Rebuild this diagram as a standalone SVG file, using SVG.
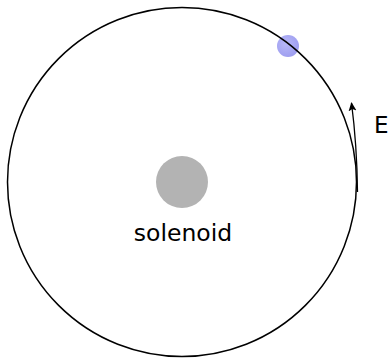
<svg xmlns="http://www.w3.org/2000/svg" width="392" height="358" viewBox="0 0 392 358">
<style>
.lbl{font-family:"DejaVu Sans",sans-serif;fill:#000}
</style>
<defs>
<marker id="ah" markerWidth="10" markerHeight="10" refX="8" refY="4" orient="auto" markerUnits="userSpaceOnUse">
<path d="M0,0 L9,4 L0,8 L2,4 Z" fill="#000"/>
</marker>
<radialGradient id="bg" cx="0.4" cy="0.4" r="0.6">
<stop offset="0" stop-color="#b8b8f8"/>
<stop offset="1" stop-color="#9f9ff0"/>
</radialGradient>
</defs>
<rect width="392" height="358" fill="#fff"/>
<g id="charge"><circle cx="288" cy="46" r="11" fill="url(#bg)"/></g>
<g id="orbit"><circle cx="182" cy="182" r="174.5" fill="none" stroke="#000" stroke-width="1.5"/></g>
<g id="solenoid"><circle cx="182" cy="182" r="26" fill="#b3b3b3"/><text class="lbl" x="183" y="241" font-size="23.5" text-anchor="middle">solenoid</text></g>
<g id="connectors"><path d="M357.5,192 Q357,145 351.5,103" fill="none" stroke="#000" stroke-width="1.3" marker-end="url(#ah)"/></g>
<g id="E"><text class="lbl" x="374" y="133" font-size="23">E</text></g>
</svg>
